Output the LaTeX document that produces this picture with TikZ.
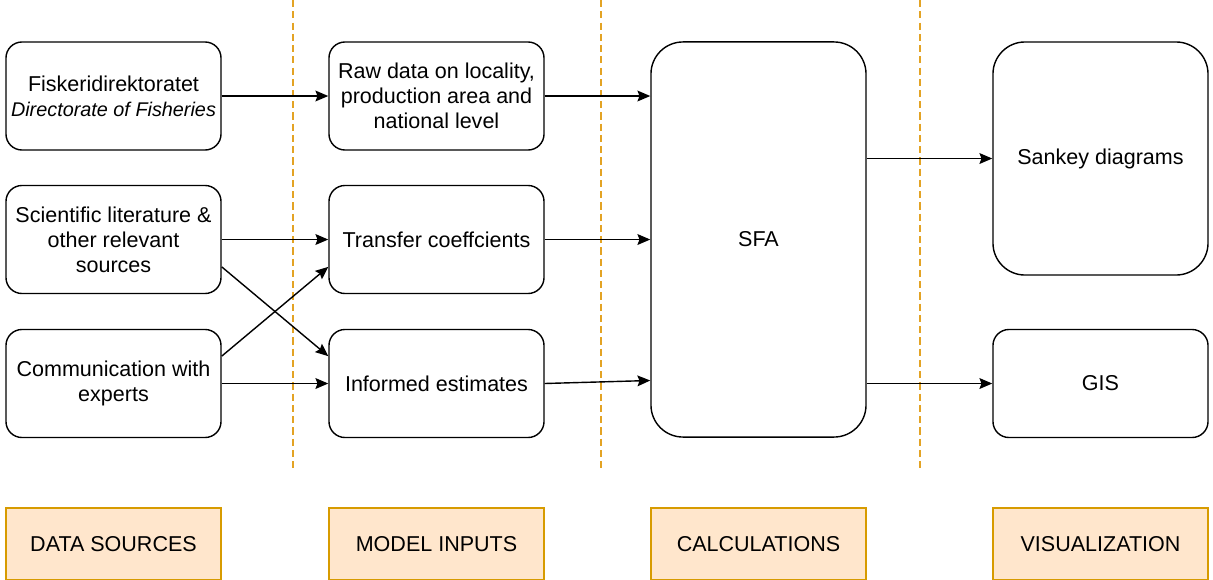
\documentclass[tikz,border=0pt]{standalone}
\usepackage{xcolor}
\usepackage{fontspec}
\setmainfont{Liberation Sans}
\usepackage{tikz}
\usetikzlibrary{arrows.meta,calc}
\definecolor{phaseline}{HTML}{E3A324}
\definecolor{phasefill}{HTML}{FFE6CC}
\definecolor{phasedraw}{HTML}{D79B00}
\begin{document}
\begin{tikzpicture}[x=0.025cm,y=-0.025cm,
		font=\fontsize{15.3}{17.8}\selectfont,
		box/.style={draw, line width=1pt, rounded corners=0.4cm, align=center, minimum width=5.375cm, minimum height=2.7cm, inner sep=0pt},
		bigbox/.style={box, rounded corners=0.8cm},
		phase/.style={draw=phasedraw, fill=phasefill, line width=1pt, minimum width=5.375cm, minimum height=1.8cm, inner sep=0pt},
		link/.style={line width=1pt, -{Stealth[length=0.32cm,width=0.27cm,inset=0.05cm]}},
		sep/.style={phaseline, line width=1pt, dash pattern=on 5pt off 3pt}]
		\useasboundingbox (0,0) rectangle (1213,580);
		\draw[sep] (293,0) -- (293,472);
		\draw[sep] (601,0) -- (601,472);
		\draw[sep] (920,0) -- (920,472);
		\node[box] (fisk) at (113.5,96) {Fiskeridirektoratet\\{\fontsize{14.1}{17.8}\selectfont\itshape Directorate of Fisheries}};
		\node[box] (sci) at (113.5,239.5) {Scientific literature \&\\other relevant\\sources};
		\node[box] (comm) at (113.5,383.5) {Communication with\\experts};
		\node[box] (raw) at (436.5,96) {Raw data on locality,\\production area and\\national level};
		\node[box] (tc) at (436.5,239.5) {Transfer coeffcients};
		\node[box] (inf) at (436.5,383.5) {Informed estimates};
		\node[bigbox, minimum height=9.875cm] (sfa) at (758.5,239.5) {SFA};
		\node[bigbox, minimum height=5.825cm] (sank) at (1100.5,158.5) {Sankey diagrams};
		\node[box] (gis) at (1100.5,383.5) {GIS};
		\node[phase] (ds) at (113.5,544) {DATA SOURCES};
		\node[phase] (mi) at (436.5,544) {MODEL INPUTS};
		\node[phase] (calc) at (758.5,544) {CALCULATIONS};
		\node[phase] (vis) at (1100.5,544) {VISUALIZATION};
		\draw[link] (fisk) -- (raw);
		\draw[link] (sci.east) -- (tc.west);
		\draw[link] ($(sci.east)!0.5!(sci.south east)$) -- ($(inf.west)!0.5!(inf.north west)$);
		\draw[link] ($(comm.east)!0.5!(comm.north east)$) -- ($(tc.west)!0.5!(tc.south west)$);
		\draw[link] (comm.east) -- (inf.west);
		\draw[link] (raw.east) -- (raw.east -| sfa.west);
		\draw[link] (tc.east) -- (tc.east -| sfa.west);
		\draw[link] (inf.east) -- ($(inf.east -| sfa.west)+(0,-3)$);
		\draw[link] (sank.west -| sfa.east) -- (sank.west);
		\draw[link] (gis.west -| sfa.east) -- (gis.west);
\end{tikzpicture}
\end{document}
